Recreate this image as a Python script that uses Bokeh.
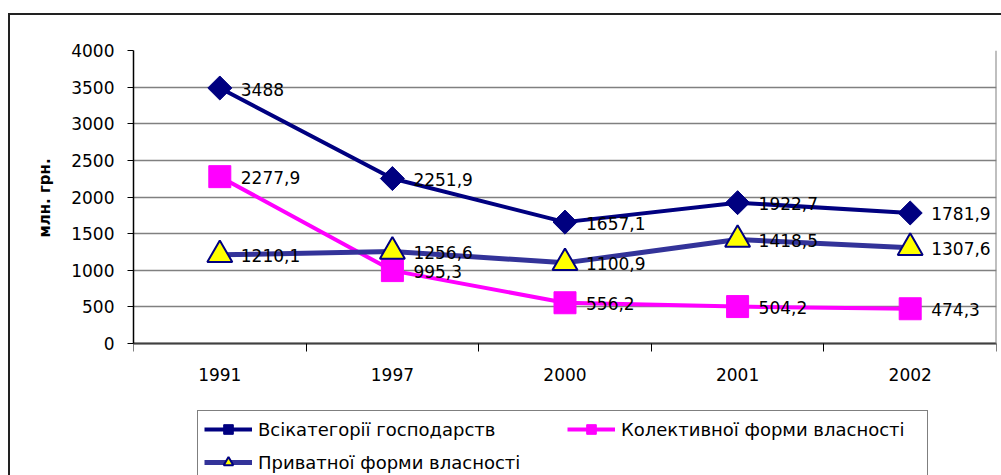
import math
from bokeh.plotting import figure
from bokeh.models import (Range1d, FixedTicker, Legend, LegendItem,
                          ColumnDataSource, Title, LinearAxis)
from bokeh.embed import file_html
from bokeh.resources import INLINE
from bokeh.core.properties import value

# ---- data ----
years = ["1991", "1997", "2000", "2001", "2002"]
all_farms = [3488, 2251.9, 1657.1, 1922.7, 1781.9]
collective = [2277.9, 995.3, 556.2, 504.2, 474.3]
private = [1210.1, 1256.6, 1100.9, 1418.5, 1307.6]
series_names = ["Всікатегорії господарств",
                "Колективної форми власності",
                "Приватної форми власності"]
y_ticks = [0, 500, 1000, 1500, 2000, 2500, 3000, 3500, 4000]
y_title = "млн. грн."

FONT = "DejaVu Sans"
n = len(years)
xs = [i + 0.5 for i in range(n)]


def fmt(v):
    return f"{v:g}".replace(".", ",")


# the frame runs down to the bottom of the window; value 0 sits 132px above it
Y_BOTTOM = -1802
p = figure(width=1001, height=475,
           x_range=Range1d(0, n), y_range=Range1d(Y_BOTTOM, y_ticks[-1]),
           output_backend="svg", toolbar_location=None,
           min_border_left=133, min_border_right=5,
           min_border_top=50, min_border_bottom=0)
p.background_fill_color = "white"
p.border_fill_color = None
p.outline_line_color = None
# outer chart border (left and top edges visible in the window)
p.styles = {
    "background-color": "white",
    "background-image": "linear-gradient(#222222, #222222), linear-gradient(#222222, #222222)",
    "background-size": "2px 100%, 100% 2px",
    "background-position": "8px 13px, 8px 13px",
    "background-repeat": "no-repeat",
}

# x axis sits at value 0
xa = p.xaxis[0]
xa.fixed_location = 0
xa.ticker = FixedTicker(ticks=xs, minor_ticks=list(range(n + 1)))
xa.major_label_overrides = {x: y for x, y in zip(xs, years)}
xa.major_tick_line_color = None
xa.major_tick_out = 0
xa.major_tick_in = 0
xa.minor_tick_out = 8
xa.minor_tick_in = 0
xa.minor_tick_line_color = "black"
xa.axis_line_color = "#404040"
xa.axis_line_width = 2
xa.major_label_standoff = 16
xa.major_label_text_font = FONT
xa.major_label_text_font_size = "17px"
xa.major_label_text_color = "black"

ya = p.yaxis[0]
ya.bounds = (y_ticks[0], y_ticks[-1])
ya.ticker = FixedTicker(ticks=y_ticks)
ya.major_tick_out = 6
ya.major_tick_in = 0
ya.minor_tick_line_color = None
ya.axis_line_color = "black"
ya.axis_line_width = 1.5
ya.major_tick_line_color = "black"
ya.major_label_standoff = 13
ya.major_label_text_font = FONT
ya.major_label_text_font_size = "17px"
ya.major_label_text_color = "black"

# right edge of the plot area
ra = LinearAxis(fixed_location=n, bounds=(y_ticks[0], y_ticks[-1]),
                ticker=FixedTicker(ticks=[]), axis_line_color="#808080",
                axis_line_width=2, major_label_text_font_size="0px",
                major_tick_line_color=None, minor_tick_line_color=None)
p.add_layout(ra, "right")

p.add_layout(Title(text=y_title, align="left", offset=238, standoff=30,
                   text_font=FONT, text_font_size="15px", text_font_style="bold",
                   text_color="black"), "left")

p.xgrid.grid_line_color = None
p.ygrid.ticker = FixedTicker(ticks=y_ticks)
p.ygrid.grid_line_color = "#808080"
p.ygrid.grid_line_width = 1.5

# series
src1 = ColumnDataSource(dict(x=xs, y=all_farms, t=[fmt(v) for v in all_farms]))
src2 = ColumnDataSource(dict(x=xs, y=collective, t=[fmt(v) for v in collective]))
src3 = ColumnDataSource(dict(x=xs, y=private, t=[fmt(v) for v in private]))

l1 = p.line("x", "y", source=src1, line_color="#000080", line_width=4)
m1 = p.scatter("x", "y", source=src1, marker="square", size=17, angle=math.pi / 4,
               fill_color="#000080", line_color="#000080")
l2 = p.line("x", "y", source=src2, line_color="#FF00FF", line_width=4)
m2 = p.scatter("x", "y", source=src2, marker="square", size=22,
               fill_color="#FF00FF", line_color="#FF00FF")
l3 = p.line("x", "y", source=src3, line_color="#333399", line_width=5)
m3 = p.scatter("x", "y", source=src3, marker="triangle", size=25,
               fill_color="#FFFF00", line_color="#000080", line_width=2)

for s in (src1, src2, src3):
    p.text("x", "y", text="t", source=s, x_offset=21, y_offset=1,
           text_font=value(FONT), text_font_size="17px", text_color="black",
           text_baseline="middle", text_align="left")

# legend
legend = Legend(items=[LegendItem(label=series_names[0], renderers=[l1, m1]),
                       LegendItem(label=series_names[1], renderers=[l2, m2]),
                       LegendItem(label=series_names[2], renderers=[l3, m3])],
                location=(64, -6), orientation="horizontal", ncols=2)
legend.label_text_font = FONT
legend.label_text_font_size = "18px"
legend.label_text_color = "black"
legend.glyph_width = 48
legend.glyph_height = 24
legend.label_standoff = 6
legend.label_height = 20
legend.label_width = 300
legend.padding = 6
legend.spacing = 9
legend.margin = 0
legend.border_line_color = "black"
legend.border_line_width = 1
legend.background_fill_color = "white"
legend.background_fill_alpha = 1
p.add_layout(legend, "center")

open("out.html", "w").write(file_html(p, INLINE))
